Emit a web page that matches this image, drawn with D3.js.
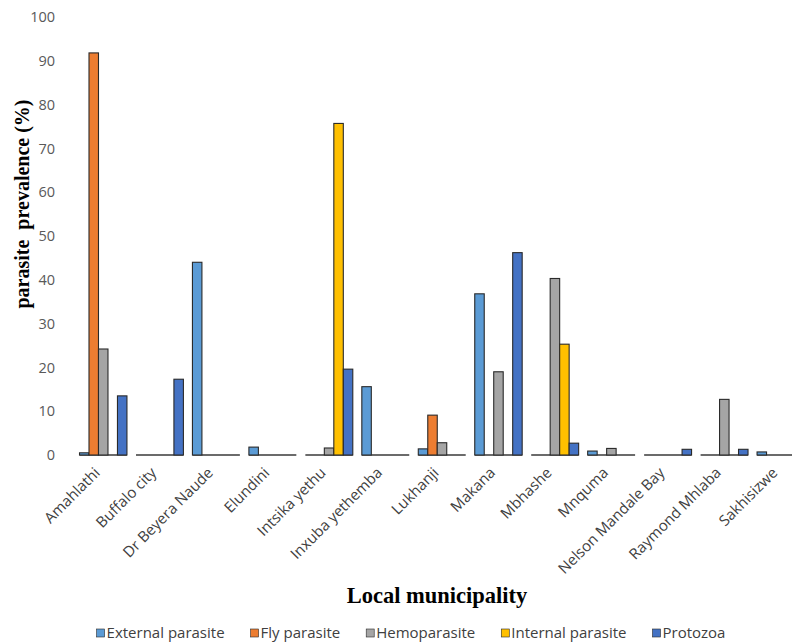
<!DOCTYPE html>
<html lang="en">
<head>
    <meta charset="UTF-8">
    <title>Parasite prevalence by local municipality</title>
    <script src="https://cdn.jsdelivr.net/npm/d3@7/dist/d3.min.js"></script>
    <style>
        body { margin: 0; background: #fff; }
    </style>
</head>
<body>
    <svg></svg>
    <script>
        // 数据
        let municipalities = ["Amahlathi", "Buffalo city", "Dr Beyera Naude", "Elundini", "Intsika yethu",
            "Inxuba yethemba", "Lukhanji", "Makana", "Mbhashe", "Mnquma", "Nelson Mandale Bay",
            "Raymond Mhlaba", "Sakhisizwe"];
        let seriesNames = ["External parasite", "Fly parasite", "Hemoparasite", "Internal parasite", "Protozoa"];
        let externalParasite = [0.5, 0, 44, 1.8, 0, 15.6, 1.4, 36.8, 0, 0.9, 0, 0, 0.7];
        let flyParasite      = [91.8, 0, 0, 0, 0, 0, 9.1, 0, 0, 0, 0, 0, 0];
        let hemoparasite     = [24.2, 0, 0, 0, 1.6, 0, 2.8, 19, 40.3, 1.5, 0, 12.7, 0];
        let internalParasite = [0, 0, 0, 0, 75.7, 0, 0, 0, 25.3, 0, 0, 0, 0];
        let protozoa         = [13.5, 17.3, 0, 0, 19.6, 0, 0, 46.2, 2.7, 0, 1.3, 1.3, 0];
        let yTicks = [0, 10, 20, 30, 40, 50, 60, 70, 80, 90, 100];
        let colors = ["#5B9BD5", "#ED7D31", "#A5A5A5", "#FFC000", "#4472C4"];

        let allSeries = [externalParasite, flyParasite, hemoparasite, internalParasite, protozoa];

        let svgWidth = 792, svgHeight = 643;
        let svg = d3.select("svg")
            .attr("width", svgWidth)
            .attr("height", svgHeight);

        // 比例尺 (the plot runs past the right edge, like the cropped original)
        let x0 = d3.scaleBand()
            .domain(municipalities)
            .range([75, 809])
            .paddingInner(0.16)
            .paddingOuter(0.08);
        let x1 = d3.scaleBand()
            .domain(seriesNames)
            .range([0, x0.bandwidth()]);
        let y = d3.scaleLinear()
            .domain([0, 100])
            .range([455, 17]);

        // y轴
        let yAxis = d3.axisLeft(y).tickValues(yTicks).tickSize(0).tickPadding(0);
        let gy = svg.append("g")
            .attr("transform", "translate(55,0)")
            .call(yAxis);
        gy.select(".domain").remove();
        gy.selectAll("text")
            .attr("font-family", "Open Sans")
            .attr("font-size", 14.5)
            .attr("fill", "#595959");

        // 柱状图
        let groups = svg.selectAll("g.group")
            .data(municipalities)
            .enter()
            .append("g")
            .attr("class", "group")
            .attr("transform", d => "translate(" + x0(d) + ",0)");

        // zero-valued bars show up as a thin floor line
        groups.append("line")
            .attr("x1", 0)
            .attr("x2", x0.bandwidth())
            .attr("y1", y(0))
            .attr("y2", y(0))
            .attr("stroke", "#3a3a3a")
            .attr("stroke-width", 1.4);

        groups.selectAll("rect")
            .data((d, i) => seriesNames.map((s, k) => ({ s: s, k: k, v: allSeries[k][i] })))
            .enter()
            .append("rect")
            .attr("x", d => x1(d.s))
            .attr("y", d => y(d.v))
            .attr("width", x1.bandwidth())
            .attr("height", d => y(0) - y(d.v))
            .attr("fill", d => colors[d.k])
            .attr("stroke", "#2a2a2a")
            .attr("stroke-width", 1.1);

        // x轴标签
        let gx = svg.append("g")
            .attr("transform", "translate(0,455)")
            .call(d3.axisBottom(x0).tickSize(0).tickPadding(0));
        gx.select(".domain").remove();
        gx.selectAll("text")
            .attr("font-family", "Open Sans")
            .attr("font-size", 15)
            .attr("fill", "#404040")
            .attr("text-anchor", "end")
            .attr("dy", "0.35em")
            .attr("transform", "translate(-6,15) rotate(-45)");

        // 轴标题
        svg.append("text")
            .attr("transform", "translate(29,204) rotate(-90)")
            .attr("text-anchor", "middle")
            .attr("font-family", "Liberation Serif")
            .attr("font-weight", "bold")
            .attr("font-size", 20)
            .style("white-space", "pre")
            .text("parasite  prevalence (%)");

        svg.append("text")
            .attr("x", 437)
            .attr("y", 603)
            .attr("text-anchor", "middle")
            .attr("font-family", "Liberation Serif")
            .attr("font-weight", "bold")
            .attr("font-size", 22.5)
            .text("Local municipality");

        // 图例
        let legend = svg.append("g").attr("transform", "translate(0,633)");
        let lx = 0;
        seriesNames.forEach((s, k) => {
            let item = legend.append("g").attr("transform", "translate(" + lx + ",0)");
            item.append("rect")
                .attr("x", 0).attr("y", -4)
                .attr("width", 8).attr("height", 8)
                .attr("fill", colors[k])
                .attr("stroke", "#2a2a2a")
                .attr("stroke-width", 0.6);
            let t = item.append("text")
                .attr("x", 10)
                .attr("dy", "0.35em")
                .attr("font-family", "Open Sans")
                .attr("font-size", 15)
                .attr("fill", "#404040")
                .text(s);
            lx += 10 + t.node().getComputedTextLength() + 26;
        });
        let legendWidth = lx - 26;
        legend.attr("transform", "translate(" + (411 - legendWidth / 2) + ",633)");
    </script>
</body>
</html>
